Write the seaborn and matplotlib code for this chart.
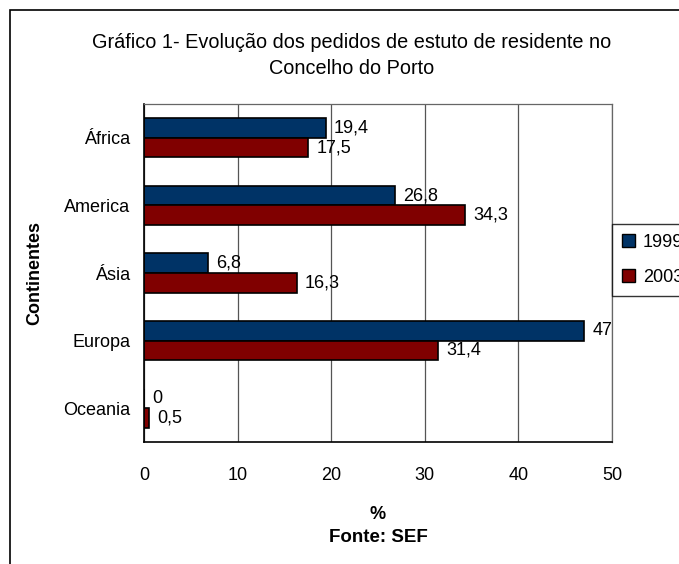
import matplotlib
matplotlib.use("Agg")
import matplotlib.pyplot as plt
import seaborn as sns
import pandas as pd
from matplotlib.patches import Rectangle, Patch
from matplotlib.ticker import FixedLocator

continents = ["África", "America", "Ásia", "Europa", "Oceania"]
years = ["1999", "2003"]
values_1999 = [19.4, 26.8, 6.8, 47, 0]
values_2003 = [17.5, 34.3, 16.3, 31.4, 0.5]
labels_1999 = ["19,4", "26,8", "6,8", "47", "0"]
labels_2003 = ["17,5", "34,3", "16,3", "31,4", "0,5"]
colors = ["#003366", "#800000"]

df = pd.DataFrame({
    "Continente": continents * 2,
    "Ano": [years[0]] * 5 + [years[1]] * 5,
    "Valor": values_1999 + values_2003,
})

sns.set_style("white")
plt.rcParams["font.family"] = ["Liberation Sans", "DejaVu Sans"]
plt.rcParams["text.color"] = "black"
plt.rcParams["axes.labelcolor"] = "black"
plt.rcParams["xtick.color"] = "black"
plt.rcParams["ytick.color"] = "black"

W, H = 679, 564
fig = plt.figure(figsize=(W / 100, H / 100), dpi=100)
ax = fig.add_axes([144 / W, 1 - 442 / H, (612 - 144) / W, (442 - 104) / H])

sns.barplot(data=df, y="Continente", x="Valor", hue="Ano", order=continents,
            hue_order=years, palette=colors, orient="h", width=0.58,
            edgecolor="black", linewidth=1.2, ax=ax, legend=False, saturation=1)

ax.set_xlim(0, 50)
ax.set_ylim(4.5, -0.5)
ax.set_xticks([0, 10, 20, 30, 40, 50])
ax.xaxis.grid(True, color="#555555", linewidth=0.9)
ax.set_axisbelow(True)
for s in ["top", "right"]:
    ax.spines[s].set_color("#666666")
    ax.spines[s].set_linewidth(0.9)
for s in ["left", "bottom"]:
    ax.spines[s].set_color("black")
    ax.spines[s].set_linewidth(1.2)

FS = 13
ax.tick_params(axis="x", which="major", direction="out", length=5, width=1,
               color="black", labelsize=FS, pad=13)
ax.tick_params(axis="y", which="major", length=0, labelsize=FS, pad=10)
ax.yaxis.set_minor_locator(FixedLocator([-0.5, 0.5, 1.5, 2.5, 3.5, 4.5]))
ax.tick_params(axis="y", which="minor", direction="out", length=6, width=1, color="black")

ax.set_xlabel("%", fontsize=FS, fontweight="bold", labelpad=16)
ax.set_ylabel("Continentes", fontsize=FS, fontweight="bold", labelpad=14)

for cont, lab in zip(ax.containers, [labels_1999, labels_2003]):
    ax.bar_label(cont, labels=lab, padding=6, fontsize=FS)

fig.text(352 / W, 1 - 43 / H, "Gráfico 1- Evolução dos pedidos de estuto de residente no",
         ha="center", va="center", fontsize=14.3)
fig.text(352 / W, 1 - 69 / H, "Concelho do Porto", ha="center", va="center", fontsize=14.3)
fig.text(378 / W, 1 - 538 / H, "Fonte: SEF", ha="center", va="center",
         fontsize=13.5, fontweight="bold")

handles = [Patch(facecolor=c, edgecolor="black", linewidth=1) for c in colors]
leg = fig.legend(handles, years, loc="upper left", bbox_to_anchor=(612 / W, 1 - 224 / H),
                 frameon=True, fancybox=False, fontsize=FS, handlelength=0.7,
                 handleheight=0.7, handletextpad=0.45, labelspacing=1.0,
                 borderpad=0.55, borderaxespad=0)
leg.get_frame().set_edgecolor("black")
leg.get_frame().set_linewidth(1)

fig.add_artist(Rectangle((10 / W, -0.1), 2, 1.1 - 10 / H, transform=fig.transFigure,
                         fill=False, edgecolor="black", linewidth=1.2))

fig.savefig("out.png", dpi=100)
